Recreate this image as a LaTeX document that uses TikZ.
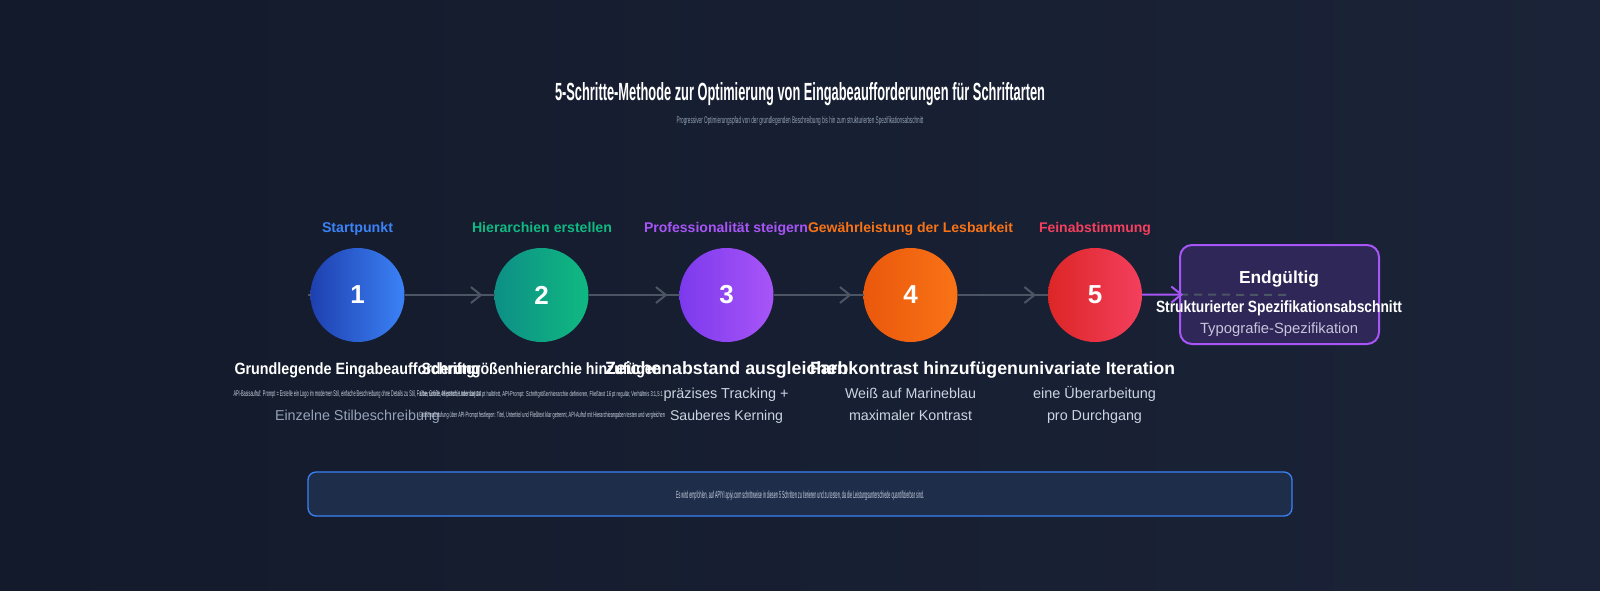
\documentclass[tikz,border=0pt]{standalone}
\usepackage{fontspec}
\setmainfont{Liberation Sans}
\usetikzlibrary{arrows.meta,decorations.markings}
\definecolor{bgA}{HTML}{131A2B}
\definecolor{bgB}{HTML}{1B2338}
\definecolor{cOneA}{HTML}{1E40AF}
\definecolor{cOneB}{HTML}{3B82F6}
\definecolor{cTwoA}{HTML}{0D8F86}
\definecolor{cTwoB}{HTML}{10B981}
\definecolor{cThrA}{HTML}{7C3AED}
\definecolor{cThrB}{HTML}{A855F7}
\definecolor{cFouA}{HTML}{EA580C}
\definecolor{cFouB}{HTML}{F97316}
\definecolor{cFivA}{HTML}{DC2626}
\definecolor{cFivB}{HTML}{F43F5E}
\definecolor{lineGray}{HTML}{4B5563}
\definecolor{descTxt}{HTML}{CBD5E1}
\definecolor{mutedTxt}{HTML}{94A3B8}
\definecolor{noteFill}{HTML}{1E2D4A}
\definecolor{noteLine}{HTML}{3B82F6}
\definecolor{finalFill}{HTML}{2E2757}
\definecolor{finalLine}{HTML}{A855F7}
\definecolor{lavTxt}{HTML}{C8C4DC}
\begin{document}
\begin{tikzpicture}[x=1pt,y=-1pt,
  every node/.style={inner sep=0pt, outer sep=0pt},
  stepcircle/.style={circle, minimum size=94pt, text=white, font=\fontsize{26}{26}\selectfont\bfseries},
  toplabel/.style={anchor=base, font=\fontsize{15}{15}\selectfont\bfseries},
  steptitle/.style={anchor=base, text=white, font=\fontsize{16}{16}\selectfont\bfseries},
  desc/.style={anchor=base, text=descTxt, font=\fontsize{13.5}{13.5}\selectfont},
  tiny/.style={anchor=base, text=descTxt, font=\fontsize{10}{10}\selectfont},
  conn/.style={draw=lineGray, line width=2pt},
  arrmark/.style={postaction={decorate}, decoration={markings, mark=at position -12pt with {\arrow[lineGray, line width=2pt]{Straight Barb[length=10pt, width=16pt]}}}},
  dashline/.style={draw=lineGray, line width=2pt, dash pattern=on 8pt off 6pt},
  finalarrow/.style={draw=finalLine, line width=2pt, -{Straight Barb[length=10pt, width=16pt]}},
  finalbox/.style={rectangle, rounded corners=12pt, draw=finalLine, line width=2pt, fill=finalFill, minimum width=199pt, minimum height=99pt},
  notebox/.style={rectangle, rounded corners=8pt, draw=noteLine, line width=1.3pt, fill=noteFill, minimum width=984pt, minimum height=44pt}
]
\useasboundingbox (0,0) rectangle (1600,590);
\shade[left color=bgA, right color=bgB] (0,0) rectangle (1600,590);

% title
\node[anchor=base, text=white, font=\bfseries] (title) at (800,100.5)
  {\resizebox{490pt}{18pt}{5-Schritte-Methode zur Optimierung von Eingabeaufforderungen für Schriftarten}};
\node[anchor=base, text=mutedTxt] (subtitle) at (800,123)
  {\resizebox{247pt}{7pt}{Progressiver Optimierungspfad von der grundlegenden Beschreibung bis hin zum strukturierten Spezifikationsabschnitt}};

% final box
\node[finalbox] (fbox) at (1279.5,294.5) {};

% connectors
\coordinate (lstart) at (308,295);
\coordinate (dstart) at (1040,295);
\coordinate (dend) at (1290,295);
\coordinate (c1p) at (357.5,295);
\coordinate (c2p) at (541.5,295);
\coordinate (c3p) at (726.5,295);
\coordinate (c4p) at (910.5,295);
\coordinate (c5p) at (1095,295);
\node[stepcircle, left color=cOneA, right color=cOneB] (c1) at (c1p) {1};
\node[stepcircle, left color=cTwoA, right color=cTwoB] (c2) at (c2p) {2};
\node[stepcircle, left color=cThrA, right color=cThrB] (c3) at (c3p) {3};
\node[stepcircle, left color=cFouA, right color=cFouB] (c4) at (c4p) {4};
\node[stepcircle, left color=cFivA, right color=cFivB] (c5) at (c5p) {5};
\draw[conn] (lstart) -- (c1);
\draw[conn, arrmark] (c1) -- (c2);
\draw[conn, arrmark] (c2) -- (c3);
\draw[conn, arrmark] (c3) -- (c4);
\draw[conn, arrmark] (c4) -- (c5);
\draw[dashline] (dstart) -- (c5);
\draw[dashline] (fbox.west) -- (dend);
\draw[finalarrow] (c5) -- ([xshift=3pt]fbox.west);

% labels above
\node[toplabel, text=cOneB] (l1) at (357.5,232) {\resizebox{71pt}{!}{Startpunkt}};
\node[toplabel, text=cTwoB] (l2) at (542,232) {\resizebox{140pt}{!}{Hierarchien erstellen}};
\node[toplabel, text=cThrB] (l3) at (726,232) {\resizebox{164pt}{!}{Professionalität steigern}};
\node[toplabel, text=cFouB] (l4) at (910.5,232) {\resizebox{205pt}{!}{Gewährleistung der Lesbarkeit}};
\node[toplabel, text=cFivB] (l5) at (1095,232) {\resizebox{112pt}{!}{Feinabstimmung}};

% step titles
\node[steptitle] (t1) at (357.5,374.3) {\resizebox{246pt}{11.8pt}{Grundlegende Eingabeaufforderung}};
\node[steptitle] (t2) at (541.5,374.3) {\resizebox{240pt}{11.8pt}{Schriftgrößenhierarchie hinzufügen}};
\node[steptitle] (t3) at (726.5,374.3) {\resizebox{243pt}{!}{Zeichenabstand ausgleichen}};
\node[steptitle] (t4) at (914,374.3) {\resizebox{208pt}{!}{Farbkontrast hinzufügen}};
\node[steptitle] (t5) at (1096.5,374.3) {\resizebox{157pt}{!}{univariate Iteration}};

% descriptions
\node[tiny] (d1a) at (357.5,396) {\resizebox{248pt}{6pt}{API-Basisaufruf: Prompt = Erstelle ein Logo im modernen Stil, einfache Beschreibung ohne Details zu Stil, Farbe, Größe, Hierarchie oder Layout}};
\node[desc, text=mutedTxt] (d1b) at (357.5,420) {\resizebox{165pt}{!}{Einzelne Stilbeschreibung}};
\node[tiny] (d2a) at (541.5,396) {\resizebox{243pt}{6pt}{Überschrift 48 pt fett, Untertitel 24 pt halbfett, API-Prompt: Schriftgrößenhierarchie definieren, Fließtext 16 pt regulär, Verhältnis 3:1,5:1}};
\node[tiny] (d2b) at (542,417) {\resizebox{246pt}{5.5pt}{Größenabstufung über API-Prompt festlegen: Titel, Untertitel und Fließtext klar getrennt, API-Aufruf mit Hierarchieangaben testen und vergleichen}};
\node[desc] (d3a) at (726,398) {\resizebox{125pt}{!}{präzises Tracking +}};
\node[desc] (d3b) at (726.5,420) {\resizebox{113pt}{!}{Sauberes Kerning}};
\node[desc] (d4a) at (910.5,398) {\resizebox{131pt}{!}{Weiß auf Marineblau}};
\node[desc] (d4b) at (910.5,420) {\resizebox{123pt}{!}{maximaler Kontrast}};
\node[desc] (d5a) at (1094.5,398) {\resizebox{123pt}{!}{eine Überarbeitung}};
\node[desc] (d5b) at (1094.5,420) {\resizebox{95pt}{!}{pro Durchgang}};

% final box texts
\node[anchor=base, text=white, font=\bfseries] (f1) at (1279,283) {\resizebox{80pt}{!}{Endgültig}};
\node[anchor=base, text=white, font=\bfseries] (f2) at (1279,312.7) {\resizebox{246pt}{11.8pt}{Strukturierter Spezifikationsabschnitt}};
\node[anchor=base, text=lavTxt] (f3) at (1279,333.3) {\resizebox{158pt}{!}{Typografie-Spezifikation}};

% note
\node[notebox] (note) at (800,494) {};
\node[anchor=base, text=descTxt] (notetxt) at (800,498.5) {\resizebox{248pt}{7.5pt}{Es wird empfohlen, auf APIYI apiyi.com schrittweise in diesen 5 Schritten zu iterieren und zu testen, da die Leistungsunterschiede quantifizierbar sind.}};
\end{tikzpicture}
\end{document}
